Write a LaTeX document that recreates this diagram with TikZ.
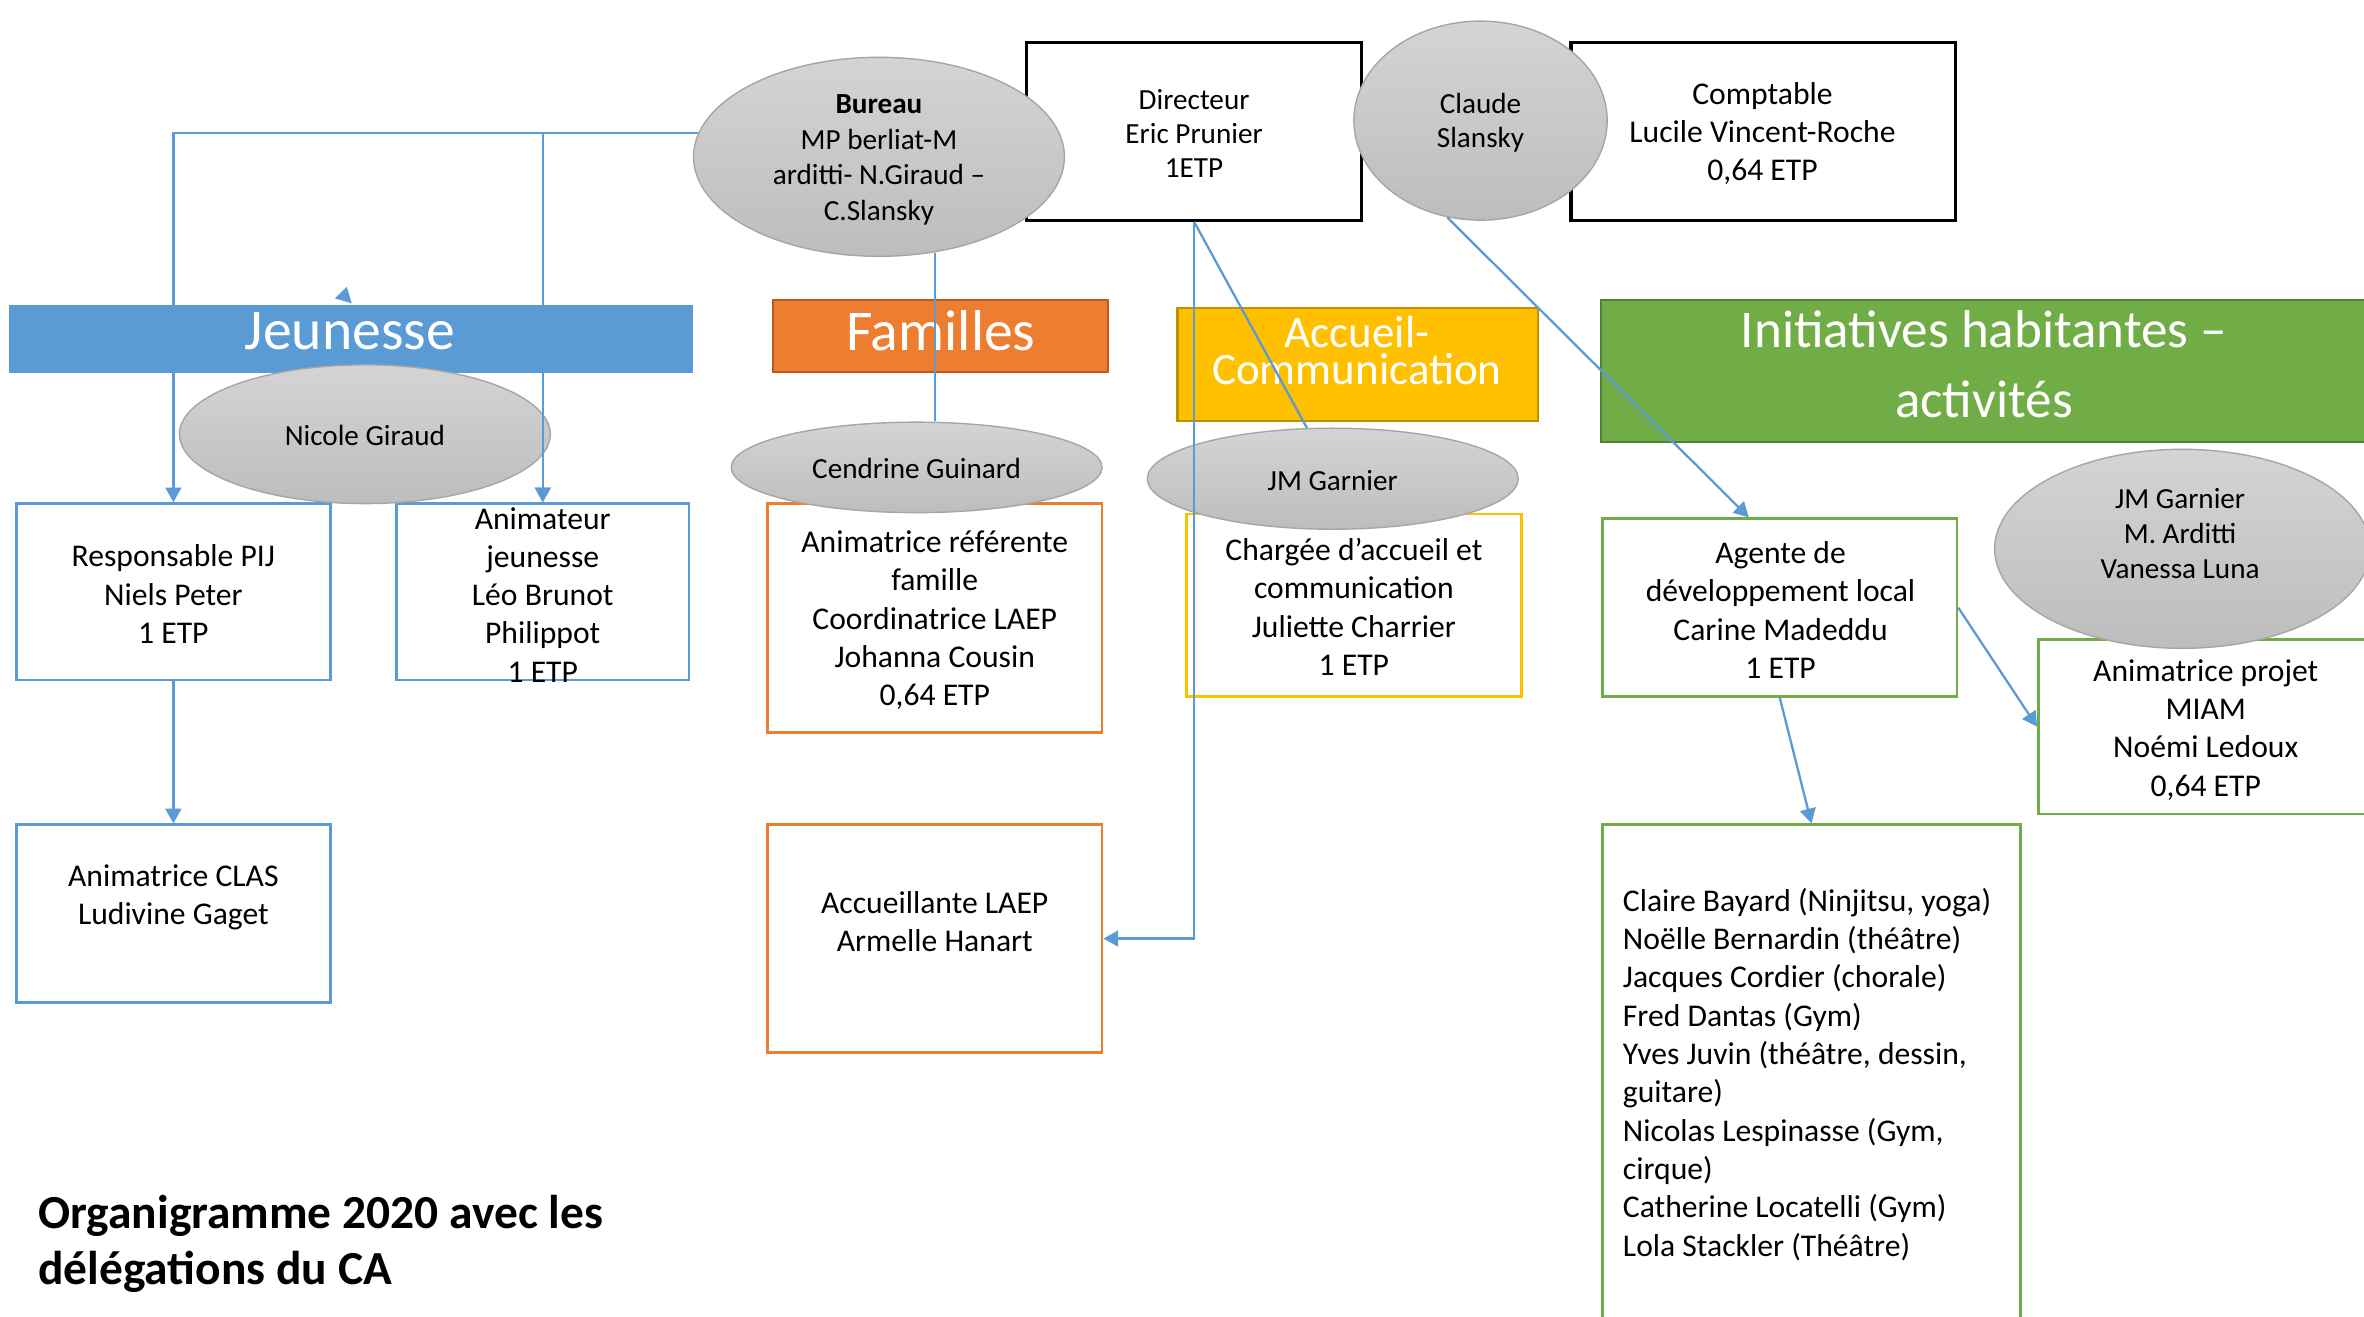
\documentclass[tikz,border=0pt]{standalone}
\usepackage{fontspec}
\setmainfont{Carlito}
\usetikzlibrary{arrows.meta,shapes.geometric,fit,calc}
\definecolor{cblue}{HTML}{5B9BD5}
\definecolor{corange}{HTML}{ED7D31}
\definecolor{corangeD}{HTML}{C05A1C}
\definecolor{cyellow}{HTML}{FFC000}
\definecolor{cyellowD}{HTML}{BF9000}
\definecolor{cgreen}{HTML}{70AD47}
\definecolor{cgreenD}{HTML}{548235}
\definecolor{ellTop}{HTML}{D4D4D4}
\definecolor{ellBot}{HTML}{BDBDBD}
\definecolor{ellEdge}{HTML}{A6A6A6}
\newcommand\fsBox{\fontsize{9}{10.9}\selectfont}
\newcommand\fsEll{\fontsize{8.3}{10}\selectfont}
\newcommand\fsHead{\fontsize{16.4}{19}\selectfont}
\begin{document}
\begin{tikzpicture}[x=0.015077cm,y=-0.015077cm,
  frame/.style={draw, inner sep=0pt, line width=0.75pt},
  bluebox/.style={frame, draw=cblue},
  orangebox/.style={frame, draw=corange},
  yellowbox/.style={frame, draw=cyellow},
  greenbox/.style={frame, draw=cgreen},
  blackbox/.style={frame, draw=black, line width=0.9pt},
  bar/.style={draw, inner sep=0pt, line width=0.6pt},
  bubble/.style={ellipse, inner sep=0pt, draw=ellEdge, line width=0.4pt, top color=ellTop, bottom color=ellBot},
  span/.style n args={4}{at={({(#1+#3)/2},{(#2+#4)/2})}, minimum width={(#3-#1)*0.015077 cm}, minimum height={(#4-#2)*0.015077 cm}},
  txt/.style={inner sep=0pt, align=center, font=\fsBox},
  etxt/.style={inner sep=0pt, align=center, font=\fsEll},
  head/.style={inner sep=0pt, align=center, text=white},
  link/.style={draw=cblue, line width=0.65pt},
  arr/.style={link, -{Triangle[width=4.5pt,length=4.2pt]}},
]
\useasboundingbox[fill=white] (0,0) rectangle (1568,873);

% ---- Jeunesse boxes
\node[bluebox, fit={(11,334) (219,451)}] (pij) {};
\node[txt] (pijT) at (115,394) {Responsable PIJ\\Niels Peter\\1 ETP};
\node[bluebox, fit={(263,334) (457,451)}] (anim) {};
\node[txt] (animT) at (360,394.5) {Animateur\\jeunesse\\Léo Brunot\\Philippot\\1 ETP};
\node[bluebox, fit={(11,547) (219,665)}] (clas) {};
\node[txt] (clasT) at (115,595) {Animatrice CLAS\\Ludivine Gaget};

% ---- Bureau connectors to Jeunesse
\coordinate (bL) at (463.5,88);
\coordinate (bB) at (620,167.5);
\draw[arr] (bL) -| (pij.north);
\draw[arr] (bL) -| (anim.north);

% ---- Jeunesse bar
\node[bar, fill=cblue, draw=cblue, fit={(7,203) (459,247)}] (jeu) {};
\node[head, font=\fsHead] (jeuT) at (232,220) {Jeunesse};
\fill[cblue] (230,190.2) -- (222.2,197.9) -- (233.3,201.2) -- cycle;
\node[bubble, span={119}{242}{365}{334}] (nicole) {};
\node[etxt] (nicoleT) at (242,288.5) {Nicole Giraud};
\draw[arr] (jeu.south -| anim.north) -- (anim.north);

% ---- other bars
\node[bar, fill=corange, draw=corangeD, fit={(513,199) (735,247)}] (fam) {};
\node[head, font=\fsHead] (famT) at (624,219) {Familles};
\node[bar, fill=cyellow, draw=cyellowD, fit={(781,204) (1020,279)}] (acc) {};
\node[head, font={\fontsize{12.8}{10.7}\selectfont}] (accT) at (900,232.5) {Accueil-\\Communication};
\node[bar, fill=cgreen, draw=cgreenD, fit={(1062,199) (1580,293)}] (ini) {};
\node[head, font={\fontsize{15.1}{20}\selectfont}] (iniT) at (1316,241.5) {Initiatives habitantes –\\activités};

% ---- top boxes
\node[blackbox, fit={(681,28) (903,146)}] (dir) {};
\node[etxt, font={\fontsize{8.3}{9.8}\selectfont}] (dirT) at (792,88.5) {Directeur\\Eric Prunier\\1ETP};
\node[blackbox, fit={(1042,28) (1297,146)}] (compta) {};
\node[txt] (comptaT) at (1169,88.5) {Comptable\\Lucile Vincent-Roche\\0,64 ETP};

% ---- other boxes
\node[orangebox, fit={(509,334) (731,486)}] (ref) {};
\node[txt] (refT) at (620,411.5) {Animatrice référente\\famille\\Coordinatrice LAEP\\Johanna Cousin\\0,64 ETP};
\node[orangebox, fit={(509,547) (731,698)}] (laep) {};
\node[txt] (laepT) at (620,611.5) {Accueillante LAEP\\Armelle Hanart};
\node[yellowbox, fit={(787,341) (1009,462)}] (charg) {};
\node[txt] (chargT) at (898,402.5) {Chargée d’accueil et\\communication\\Juliette Charrier\\1 ETP};
\node[greenbox, fit={(1063,344) (1298,462)}] (agente) {};
\node[txt] (agenteT) at (1181,404.5) {Agente de\\développement local\\Carine Madeddu\\1 ETP};
\node[greenbox, fit={(1352,424) (1580,540)}] (miam) {};
\node[txt] (miamT) at (1463,484) {Animatrice projet\\MIAM\\Noémi Ledoux\\0,64 ETP};
\node[greenbox, fit={(1063,547) (1340,890)}] (act) {};
\node[txt, anchor=west, align=left] (actT) at (1076,712.5) {Claire Bayard (Ninjitsu, yoga)\\Noëlle Bernardin (théâtre)\\Jacques Cordier (chorale)\\Fred Dantas (Gym)\\Yves Juvin (théâtre, dessin,\\guitare)\\Nicolas Lespinasse (Gym,\\cirque)\\Catherine Locatelli (Gym)\\Lola Stackler (Théâtre)};

% ---- ellipses
\node[bubble, span={460}{38}{706}{170}] (bureau) {};
\node[etxt, font={\fontsize{8.3}{10.1}\selectfont}] (bureauT) at (583,106) {\textbf{Bureau}\\MP berliat-M\\arditti- N.Giraud –\\C.Slansky};
\node[bubble, span={898}{14}{1066}{146}] (claude) {};
\node[etxt, font={\fontsize{8.3}{9.8}\selectfont}] (claudeT) at (982,81.5) {Claude\\Slansky};
\node[bubble, span={485}{280}{731}{340}] (cendrine) {};
\node[etxt] (cendrineT) at (608,310.5) {Cendrine Guinard};
\node[bubble, span={761}{284}{1007}{351}] (jmg) {};
\node[etxt] (jmgT) at (884,318.5) {JM Garnier};
\node[bubble, span={1323}{298}{1572}{430}] (trio) {};
\node[etxt] (trioT) at (1446,354) {JM Garnier\\M. Arditti\\Vanessa Luna};

% ---- connectors on top
\draw[link] (bB) -- (bB |- cendrine.north);
\draw[arr] (dir.south) |- (laep.east);
\draw[link] (dir.south) -- (jmg.117);
\draw[arr] (claude.251) -- ($(agente.north west)!0.413!(agente.north east)$);
\draw[arr] (agente.east) -- (miam.west);
\draw[arr] (agente.south) -- (act.north);
\draw[arr] (pij.south) -- (clas.north);

% ---- title
\node[anchor=west, inner sep=0pt, align=left, font={\fontsize{13.5}{15.8}\selectfont\bfseries}] (titleT) at (25,825) {Organigramme 2020 avec les\\délégations du CA};
\end{tikzpicture}
\end{document}
